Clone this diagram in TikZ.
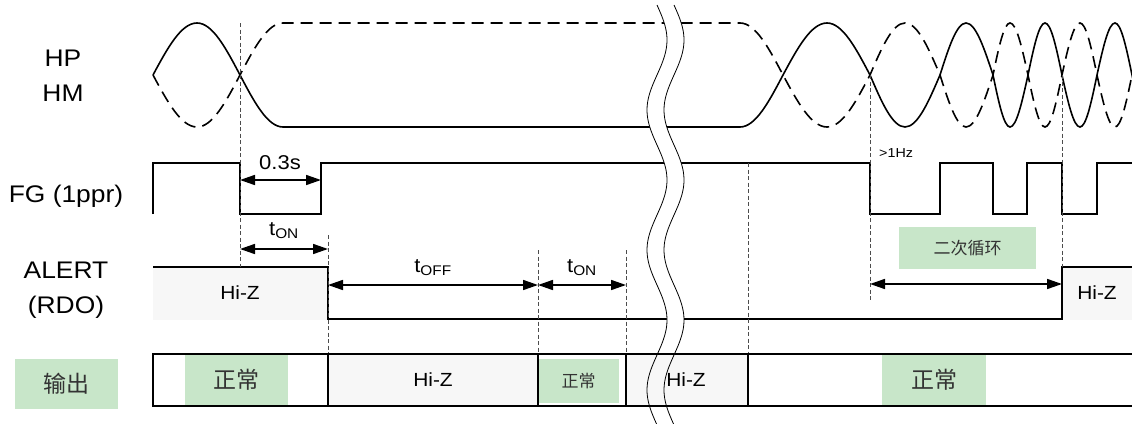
\documentclass[tikz,border=0pt]{standalone}
\usepackage{fontspec}
\setmainfont{Liberation Sans}
\newfontfamily\wide[FakeStretch=1.1]{Liberation Sans}
\newfontfamily\cjk{Noto Sans CJK SC}
\usetikzlibrary{arrows.meta}
\definecolor{hizgrey}{RGB}{247,247,247}
\definecolor{okgreen}{RGB}{200,230,201}
\begin{document}
\begin{tikzpicture}[x=1pt,y=-1pt,
 sig/.style={line width=1.9pt, line join=miter},
 wave/.style={line width=1.6pt},
 wavedash/.style={line width=1.6pt, dash pattern=on 12pt off 7pt},
 guide/.style={line width=0.8pt, black!70, dash pattern=on 4pt off 2.5pt},
 dim/.style={line width=1.6pt, {Triangle[length=15pt,width=10pt]}-{Triangle[length=15pt,width=10pt]}},
 lbl/.style={font=\wide\fontsize{24}{35}\selectfont, align=center, inner sep=0pt},
 hiztext/.style={font=\wide\fontsize{19}{20}\selectfont, inner sep=0pt},
 tlab/.style={font=\wide\fontsize{20}{22}\selectfont, inner sep=0pt},
 okbox/.style={fill=okgreen, text=black!80, inner sep=0pt},
 cjkbig/.style={font=\cjk\fontsize{23}{24}\selectfont},
 cjksmall/.style={font=\cjk\fontsize{17}{20}\selectfont},
 thin/.style={line width=1.1pt},
 breakline/.style={line width=0.8pt}
]
\useasboundingbox (0,0) rectangle (1132,423);
\clip (0,0) rectangle (1132,423);

% ---- left labels
\node[lbl] (hphm) at (63,76) {HP\\HM};
\node[lbl] (fg) at (66,196) {FG (1ppr)};
\node[lbl] (alert) at (66,290) {ALERT\\(RDO)};
\node[okbox, cjkbig, minimum width=103pt, minimum height=50pt] (out) at (66.5,384) {输出};

% ---- HP / HM
\draw[wave] (153,75) sin (197,23) cos (240,75) sin (283,127) -- (740,127)
  cos (783,75) sin (827,23) cos (870,75) sin (905,127) cos (940,75) sin (966,23)
  cos (993,75) sin (1010,127) cos (1028,75) sin (1045,23) cos (1062,75)
  sin (1080,127) cos (1097,75) sin (1115,23) cos (1132,75) sin (1150,127);
\draw[wavedash] (153,75) sin (197,127) cos (240,75) sin (283,23) -- (740,23)
  cos (783,75) sin (827,127) cos (870,75) sin (905,23) cos (940,75) sin (966,127)
  cos (993,75) sin (1010,23) cos (1028,75) sin (1045,127) cos (1062,75)
  sin (1080,23) cos (1097,75) sin (1115,127) cos (1132,75) sin (1150,23);

% ---- ALERT grey areas
\fill[hizgrey] (153,267) rectangle (328,320);
\fill[hizgrey] (1062,267) rectangle (1132,320);
\node[hiztext] (hz1) at (240,293) {Hi-Z};
\node[hiztext] (hz2) at (1097,293) {Hi-Z};

% ---- FG
\draw[sig] (153,214) -- (153,163) -- (240,163) -- (240,214) -- (321,214) -- (321,163)
  -- (870,163) -- (870,214) -- (940,214) -- (940,163) -- (993,163) -- (993,214)
  -- (1027,214) -- (1027,163) -- (1062,163) -- (1062,214) -- (1097,214) -- (1097,163) -- (1132,163);

% ---- ALERT
\draw[sig] (153,267) -- (328,267) -- (328,319) -- (1062,319) -- (1062,267) -- (1132,267);

% ---- guides
\draw[guide] (240,23) -- (240,267);
\draw[guide] (328,235) -- (328,354);
\draw[guide] (538,250) -- (538,354);
\draw[guide] (626,250) -- (626,354);
\draw[guide] (748,163) -- (748,354);
\draw[guide] (870,75) -- (870,302);
\draw[guide] (1062,75) -- (1062,267);

% ---- dimension arrows
\coordinate (d1a) at (240,180); \coordinate (d1b) at (321,180);
\coordinate (d2a) at (240,249); \coordinate (d2b) at (328,249);
\coordinate (d3a) at (328,285); \coordinate (d3b) at (538,285);
\coordinate (d4a) at (538,285); \coordinate (d4b) at (626,285);
\coordinate (d5a) at (870,284); \coordinate (d5b) at (1062,284);
\draw[dim] (d1a) -- (d1b);
\draw[dim] (d2a) -- (d2b);
\draw[dim] (d3a) -- (d3b);
\draw[dim] (d4a) -- (d4b);
\draw[dim] (d5a) -- (d5b);
\node[tlab] (l03) at (280,163) {0.3s};
\node[tlab] (lon1) at (284,231) {t\textsubscript{ON}};
\node[tlab] (loff) at (433,268) {t\textsubscript{OFF}};
\node[tlab] (lon2) at (582,268) {t\textsubscript{ON}};
\node[font=\wide\fontsize{13}{14}\selectfont, inner sep=0pt, anchor=west] (hz) at (879,153) {>1Hz};
\node[okbox, cjksmall, minimum width=137pt, minimum height=42pt] (loop) at (967.5,248) {二次循环};

% ---- break (white gap)
\fill[white] plot[domain=5:425, samples=80, smooth] ({657+10*sin(2.5714*(\x-5))},\x)
  -- plot[domain=425:5, samples=80, smooth] ({674+10*sin(2.5714*(\x-5))},\x) -- cycle;

% ---- output row
\fill[hizgrey] (328,354) rectangle (538,406);
\fill[hizgrey] (626,354) rectangle (748,406);
\node[okbox, cjkbig, minimum width=103pt, minimum height=51pt] (ok1) at (236.5,380) {正常};
\node[okbox, cjksmall, minimum width=81pt, minimum height=44pt] (ok2) at (578.5,381) {正常};
\node[okbox, cjkbig, minimum width=104pt, minimum height=51pt] (ok3) at (934,380) {正常};
\node[hiztext] (hz3) at (433,380) {Hi-Z};
\draw[thin] (1140,354) -- (153,354) -- (153,406) -- (1140,406);
\draw[thin] (328,354) -- (328,406);
\draw[thin] (538,354) -- (538,406);
\draw[thin] (626,354) -- (626,406);
\draw[thin] (748,354) -- (748,406);

% ---- break lines
\draw[breakline] plot[domain=5:425, samples=80, smooth] ({657+10*sin(2.5714*(\x-5))},\x);
\draw[breakline] plot[domain=5:425, samples=80, smooth] ({674+10*sin(2.5714*(\x-5))},\x);
\node[hiztext] (hz4) at (686,380) {Hi-Z};
\end{tikzpicture}
\end{document}
